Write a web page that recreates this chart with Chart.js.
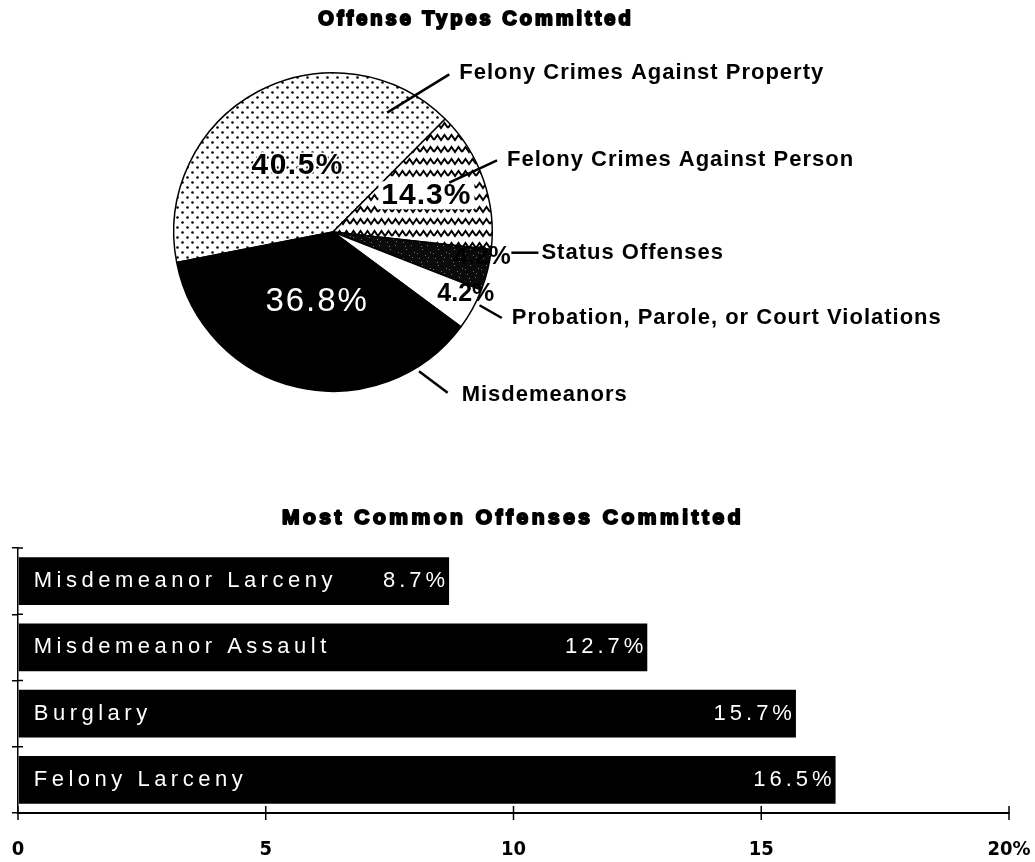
<!DOCTYPE html>
<html>
<head>
<meta charset="utf-8">
<script src="https://cdn.jsdelivr.net/npm/chart.js@4/dist/chart.umd.min.js"></script>
<style>
  body { margin: 0; background: #fff; overflow: hidden; }
  #wrap { position: relative; width: 1035px; height: 862px; overflow: hidden; }
  canvas { position: absolute; left: 0; }
  #pie { top: 0; }
  #bars { top: 490px; }
</style>
</head>
<body>
<div id="wrap">
  <canvas id="pie" width="1035" height="440"></canvas>
  <canvas id="bars" width="1035" height="373"></canvas>
</div>
<script>
// offense types (pie)
const offenseTypes = ['Felony Crimes Against Property', 'Felony Crimes Against Person', 'Status Offenses', 'Probation, Parole, or Court Violations', 'Misdemeanors'];
const typeShares = [40.5, 14.3, 4.2, 4.2, 36.8];

// most common offenses (bars)
const offenses = ['Misdemeanor Larceny', 'Misdemeanor Assault', 'Burglary', 'Felony Larceny'];
const offensePct = [8.7, 12.7, 15.7, 16.5];
const xTicks = [0, 5, 10, 15, 20];

const SANS = '"Liberation Sans", Arial, sans-serif';
Chart.defaults.font.family = SANS;
Chart.defaults.color = '#000';

// fill patterns, like the old b/w print
function tile(w, h, draw) {
  let c = document.createElement('canvas');
  c.width = w; c.height = h;
  let g = c.getContext('2d');
  draw(g);
  return g.createPattern(c, 'repeat');
}
const dots = tile(10, 10, g => {
  g.fillStyle = '#fff'; g.fillRect(0, 0, 10, 10);
  g.fillStyle = '#000';
  g.beginPath(); g.arc(2.5, 2.5, 1.3, 0, Math.PI * 2); g.fill();
  g.beginPath(); g.arc(7.5, 7.5, 1.3, 0, Math.PI * 2); g.fill();
});
const waves = tile(14, 12, g => {
  g.fillStyle = '#fff'; g.fillRect(0, 0, 14, 12);
  g.strokeStyle = '#000'; g.lineWidth = 2;
  g.beginPath();
  g.moveTo(0, 8); g.lineTo(3.5, 3); g.lineTo(7, 8); g.lineTo(10.5, 3); g.lineTo(14, 8);
  g.stroke();
});
const grain = tile(16, 16, g => {
  g.fillStyle = '#0a0a0a'; g.fillRect(0, 0, 16, 16);
  g.fillStyle = '#777';
  [[3, 2], [11, 5], [6, 9], [14, 12], [1, 13], [9, 15], [12, 1], [5, 6]].forEach(p => g.fillRect(p[0], p[1], 1, 1));
});

// heavy title drawn at a fixed spot
const fixedTitle = {
  id: 'fixedTitle',
  afterDraw(chart, args, opts) {
    let ctx = chart.ctx;
    ctx.save();
    ctx.font = opts.font;
    ctx.letterSpacing = opts.spacing + 'px';
    ctx.fillStyle = '#000';
    ctx.strokeStyle = '#000';
    ctx.lineWidth = 2;
    ctx.lineJoin = 'round';
    ctx.textAlign = 'center';
    ctx.textBaseline = 'middle';
    ctx.strokeText(opts.text, opts.x, opts.y);
    ctx.fillText(opts.text, opts.x, opts.y);
    ctx.restore();
  }
};

// percent labels inside the pie + callout labels outside
const pieLabels = {
  id: 'pieLabels',
  afterDatasetsDraw(chart, args, opts) {
    let ctx = chart.ctx;
    let arcs = chart.getDatasetMeta(0).data;
    let cx = arcs[0].x, cy = arcs[0].y, r = arcs[0].outerRadius;
    ctx.save();
    ctx.textAlign = 'center';
    ctx.textBaseline = 'middle';
    opts.inside.forEach((s, i) => {
      let a = arcs[i];
      let mid = (a.startAngle + a.endAngle) / 2 + s.shift * Math.PI / 180;
      let x = cx + Math.cos(mid) * r * s.frac;
      let y = cy + Math.sin(mid) * r * s.frac;
      let txt = typeShares[i].toFixed(1) + '%';
      ctx.font = s.font;
      ctx.letterSpacing = (s.spacing || 0) + 'px';
      if (s.box) {
        let w = ctx.measureText(txt).width;
        ctx.fillStyle = '#fff';
        ctx.fillRect(x - w / 2 - 3, y - 14, w + 6, 28);
      }
      if (s.halo) {
        ctx.strokeStyle = '#fff'; ctx.lineWidth = 3;
        ctx.strokeText(txt, x, y);
      }
      ctx.fillStyle = s.color;
      ctx.fillText(txt, x, y);
    });
    ctx.strokeStyle = '#000';
    ctx.lineWidth = 2.5;
    ctx.font = opts.calloutFont;
    ctx.letterSpacing = '1px';
    ctx.textAlign = 'left';
    opts.callouts.forEach((c, i) => {
      let x0 = cx + c.from[0] * r, y0 = cy + c.from[1] * r;
      let x1 = cx + c.to[0] * r, y1 = cy + c.to[1] * r;
      ctx.beginPath(); ctx.moveTo(x0, y0); ctx.lineTo(x1, y1); ctx.stroke();
      ctx.fillStyle = '#000';
      ctx.fillText(offenseTypes[i], x1 + c.dx, y1 + c.dy);
    });
    ctx.restore();
  }
};

new Chart(document.getElementById('pie').getContext('2d'), {
  type: 'pie',
  data: {
    labels: offenseTypes,
    datasets: [{
      data: typeShares,
      backgroundColor: [dots, waves, grain, '#fff', '#000'],
      borderColor: '#000',
      borderWidth: 1.5
    }]
  },
  options: {
    responsive: false,
    animation: false,
    rotation: 259,
    layout: { padding: { left: 173, right: 542, top: 72, bottom: 48 } },
    plugins: {
      legend: { display: false },
      tooltip: { enabled: false },
      fixedTitle: { text: 'Offense Types Committed', x: 476, y: 19, spacing: 3, font: 'bold 20px ' + SANS },
      pieLabels: {
        calloutFont: 'bold 22px ' + SANS,
        inside: [
          { frac: 0.47, shift: 0, font: 'bold 30px ' + SANS, spacing: 1.5, color: '#000', halo: true },
          { frac: 0.63, shift: -2, font: 'bold 30px ' + SANS, spacing: 1, color: '#000', box: true },
          { frac: 0.95, shift: -4.35, font: 'bold 25px ' + SANS, color: '#000' },
          { frac: 0.92, shift: -4, font: 'bold 25px ' + SANS, color: '#000' },
          { frac: 0.45, shift: 0, font: '33px ' + SANS, spacing: 2, color: '#fff' }
        ],
        callouts: [
          { from: [0.34, -0.75], to: [0.73, -0.99], dx: 10, dy: -1 },
          { from: [0.73, -0.31], to: [1.03, -0.45], dx: 10, dy: 0 },
          { from: [1.12, 0.13], to: [1.29, 0.13], dx: 3, dy: 0 },
          { from: [0.92, 0.46], to: [1.06, 0.54], dx: 10, dy: 0 },
          { from: [0.54, 0.875], to: [0.72, 1.01], dx: 14, dy: 2 }
        ]
      }
    }
  },
  plugins: [fixedTitle, pieLabels]
});

// names and values written inside the bars
const barLabels = {
  id: 'barLabels',
  afterDatasetsDraw(chart) {
    let ctx = chart.ctx;
    ctx.save();
    ctx.font = '22px ' + SANS;
    ctx.fillStyle = '#fff';
    ctx.textBaseline = 'middle';
    chart.getDatasetMeta(0).data.forEach((bar, i) => {
      ctx.letterSpacing = '4.5px';
      ctx.textAlign = 'left';
      ctx.fillText(offenses[i], bar.base + 15, bar.y);
      ctx.letterSpacing = '4px';
      ctx.textAlign = 'right';
      ctx.fillText(offensePct[i].toFixed(1) + '%', bar.x, bar.y);
    });
    ctx.restore();
  }
};

// tick marks in the old chart cross the axis line
const crossTicks = {
  id: 'crossTicks',
  afterDraw(chart) {
    let ctx = chart.ctx;
    let xs = chart.scales.x, ys = chart.scales.y;
    ctx.save();
    ctx.strokeStyle = '#000';
    ctx.lineWidth = 1.5;
    xTicks.forEach(v => {
      let px = xs.getPixelForValue(v);
      ctx.beginPath(); ctx.moveTo(px, xs.top - 7); ctx.lineTo(px, xs.top + 7); ctx.stroke();
    });
    for (let i = 0; i <= offenses.length; i++) {
      let py = ys.getPixelForValue(i - 0.5);
      ctx.beginPath(); ctx.moveTo(ys.right, py); ctx.lineTo(ys.right + 5, py); ctx.stroke();
    }
    ctx.restore();
  }
};

new Chart(document.getElementById('bars').getContext('2d'), {
  type: 'bar',
  data: {
    labels: offenses,
    datasets: [{
      data: offensePct,
      backgroundColor: '#000',
      barPercentage: 0.72,
      categoryPercentage: 1
    }]
  },
  options: {
    responsive: false,
    animation: false,
    indexAxis: 'y',
    layout: { padding: { left: 12, right: 26, top: 58, bottom: 0 } },
    scales: {
      x: {
        min: 0, max: 20,
        afterBuildTicks: axis => { axis.ticks = xTicks.map(v => ({ value: v })); },
        ticks: {
          padding: 1,
          maxRotation: 0,
          font: { family: '"Liberation Sans Narrow", "DejaVu Sans Condensed", "Arial Narrow", "Liberation Sans", sans-serif', size: 20, weight: 'bold' },
          callback: v => v === 20 ? '20%' : String(v)
        },
        grid: { drawOnChartArea: false, tickLength: 24, tickColor: 'rgba(0,0,0,0)', color: '#000', lineWidth: 1.5 },
        border: { color: '#000', width: 2 }
      },
      y: {
        ticks: { display: false },
        grid: { drawOnChartArea: false, tickLength: 6, color: '#000', lineWidth: 1.5, offset: true },
        border: { color: '#000', width: 1.5 }
      }
    },
    plugins: {
      legend: { display: false },
      tooltip: { enabled: false },
      fixedTitle: { text: 'Most Common Offenses Committed', x: 513, y: 28, spacing: 3.5, font: 'bold 21px ' + SANS }
    }
  },
  plugins: [fixedTitle, barLabels, crossTicks]
});
</script>
</body>
</html>
